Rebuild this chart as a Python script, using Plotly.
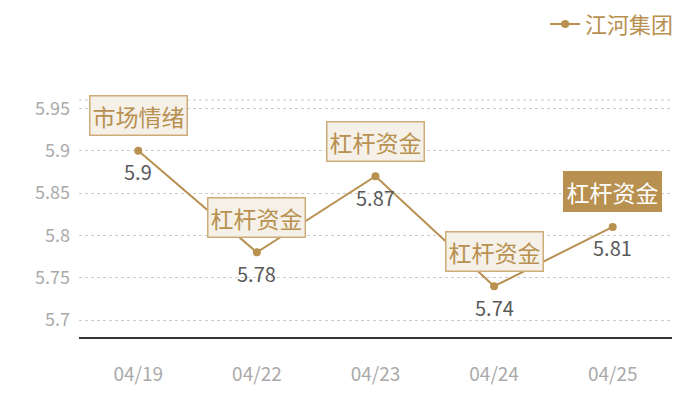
import plotly.graph_objects as go

# chart data
dates = ["04/19", "04/22", "04/23", "04/24", "04/25"]
prices = [5.9, 5.78, 5.87, 5.74, 5.81]
tags = ["市场情绪", "杠杆资金", "杠杆资金", "杠杆资金", "杠杆资金"]
series_name = "江河集团"
y_ticks = [5.7, 5.75, 5.8, 5.85, 5.9, 5.95]

gold = "rgb(184, 144, 80)"
grid = "rgb(204, 204, 204)"
font_family = "Noto Sans CJK SC"

fig = go.Figure()

fig.add_trace(
    go.Scatter(x=dates, y=prices,
               name=series_name,
               mode="lines+markers",
               line=dict(color=gold, width=2),
               marker=dict(size=8, color=gold),
               hoverinfo="skip"))

annotations = []
for i, (d, p, t) in enumerate(zip(dates, prices, tags)):
    last = i == len(dates) - 1
    # tag box above the point
    annotations.append(dict(
        x=d, y=p, text=t, showarrow=False, yshift=35,
        font=dict(size=23, color="white" if last else gold, family=font_family),
        bgcolor=gold if last else "rgb(245, 240, 232)",
        bordercolor=gold if last else "rgb(206, 172, 120)",
        borderwidth=1.5, borderpad=2))
    # value label under the point
    annotations.append(dict(
        x=d, y=p, text=str(p), showarrow=False, yshift=-21,
        font=dict(size=20, color="rgb(90, 90, 90)", family=font_family)))

# page body adds 8px offset, margins compensate for it
fig.update_layout(
    width=700, height=400,
    margin=dict(l=71, r=36, t=92, b=71, autoexpand=False),
    plot_bgcolor="white",
    paper_bgcolor="white",
    font=dict(family=font_family, size=18, color="rgb(170, 170, 170)"),
    showlegend=True,
    legend=dict(x=1.012, xanchor="right", y=1.32, yanchor="middle",
                font=dict(size=22, color=gold),
                itemwidth=30, bgcolor="rgba(0,0,0,0)"),
    annotations=annotations,
    # dotted frame line at the top of the plot area
    shapes=[dict(type="line", xref="paper", yref="paper", x0=0, x1=1, y0=1, y1=1,
                 line=dict(color=grid, width=1, dash="dot"))],
)

fig.update_xaxes(
    type="category",
    range=[-0.5, len(dates) - 0.5],
    showgrid=False,
    showline=True, linecolor="rgb(50, 50, 50)", linewidth=1.5,
    ticks="", ticklabelstandoff=19,
    tickfont=dict(size=19, color="rgb(170, 170, 170)"),
    fixedrange=True,
)

fig.update_yaxes(
    range=[5.68, 5.96],
    tickvals=y_ticks,
    ticktext=[f"{v:g}" for v in y_ticks],
    showgrid=True, gridcolor=grid, griddash="dot", gridwidth=1,
    showline=False, zeroline=False,
    ticks="", ticklabelstandoff=8,
    tickfont=dict(size=18, color="rgb(170, 170, 170)"),
    fixedrange=True,
)

fig.write_html("out.html")
